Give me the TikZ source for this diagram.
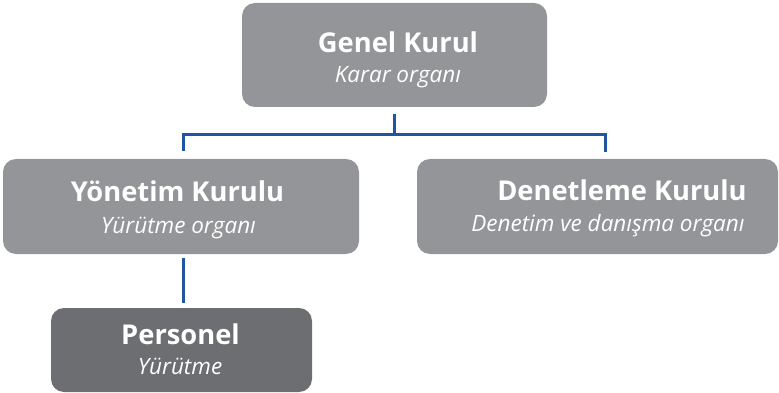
\documentclass[tikz,border=0pt]{standalone}
\usepackage{fontspec}
\setmainfont{Open Sans}
\definecolor{boxgray}{HTML}{939598}
\definecolor{darkgray}{HTML}{6D6E71}
\definecolor{connblue}{HTML}{1F55A3}
\begin{document}
\begin{tikzpicture}[x=1pt,y=-1pt,
  box/.style={fill=boxgray, rounded corners=13pt, inner sep=0pt},
  darkbox/.style={box, fill=darkgray},
  ttl/.style={text=white, anchor=base, inner sep=0pt, font=\fontsize{27.3}{30}\selectfont\bfseries},
  sub/.style={text=white, anchor=base, inner sep=0pt, font=\fontsize{22.5}{26}\selectfont\itshape},
  conn/.style={draw=connblue, line width=3pt}]
\useasboundingbox (0,0) rectangle (779,393);
\node[box, minimum width=305pt, minimum height=104pt] (gk) at (394.5,55) {};
\node[box, minimum width=356pt, minimum height=95pt] (yk) at (181,206.5) {};
\node[box, minimum width=361pt, minimum height=95pt] (dk) at (597.5,206.5) {};
\node[darkbox, minimum width=261pt, minimum height=84pt] (pk) at (181.5,350) {};
\node[ttl] (gkt) at (398,52.5) {Genel Kurul};
\node[sub] (gks) at (398,82.5) {Karar organı};
\node[ttl] (ykt) at (177.5,201) {Yönetim Kurulu};
\node[sub] (yks) at (178.5,233) {Yürütme organı};
\node[ttl] (dkt) at (622,200) {Denetleme Kurulu};
\node[sub] (dks) at (608,231) {Denetim ve danışma organı};
\node[ttl] (pkt) at (180.5,344) {Personel};
\node[sub] (pks) at (180,374) {Yürütme};
\coordinate (jn) at (394,135);
\coordinate (jl) at (183,135);
\coordinate (jr) at (605,135);
\draw[conn] ([yshift=-7pt]gk.south -| jn) -- (jn);
\draw[conn] ([yshift=8pt]yk.north -| jl) -- (jl) -- (jr) -- ([yshift=7pt]dk.north -| jr);
\draw[conn] ([yshift=-4pt]yk.south -| jl) -- ([yshift=5pt]pk.north -| jl);
\end{tikzpicture}
\end{document}
